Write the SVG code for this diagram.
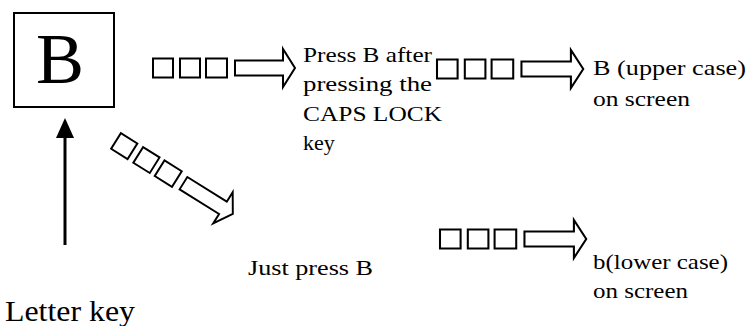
<svg xmlns="http://www.w3.org/2000/svg" width="750" height="326" viewBox="0 0 750 326">
<style>
  .lbl { font-family: "Liberation Serif", "Times New Roman", serif; font-size: 22px; fill: #000; }
  .key { font-family: "Liberation Serif", "Times New Roman", serif; fill: #000; }
  .ch { fill: #fff; stroke: #000; stroke-width: 2; stroke-linejoin: miter; }
</style>
<defs>
  <g id="chain">
    <rect class="ch" x="0" y="-9.5" width="20" height="19"/>
    <rect class="ch" x="27" y="-9.5" width="20" height="19"/>
    <rect class="ch" x="53" y="-9.5" width="21" height="19"/>
    <path class="ch" d="M82,-7.5 H130 V-19 L142,0 L130,19 V7.5 H82 Z"/>
  </g>
</defs>
<rect width="750" height="326" fill="#fff"/>

<g id="node-letter-b">
  <rect x="14" y="13" width="100" height="94" fill="#fff" stroke="#000" stroke-width="2"/>
  <text class="key" x="60" y="83" font-size="72" text-anchor="middle">B</text>
</g>

<g id="node-letter-key">
  <text class="key" x="5" y="321" font-size="30" textLength="130" lengthAdjust="spacingAndGlyphs">Letter key</text>
</g>

<g id="node-caps">
  <text class="lbl" x="303" y="62" textLength="129" lengthAdjust="spacingAndGlyphs">Press B after</text>
  <text class="lbl" x="303" y="91" textLength="129" lengthAdjust="spacingAndGlyphs">pressing the</text>
  <text class="lbl" x="303" y="121" textLength="139" lengthAdjust="spacingAndGlyphs">CAPS LOCK</text>
  <text class="lbl" x="303" y="150">key</text>
</g>

<g id="node-upper">
  <text class="lbl" x="593" y="75" textLength="153" lengthAdjust="spacingAndGlyphs">B (upper case)</text>
  <text class="lbl" x="593" y="106" textLength="97" lengthAdjust="spacingAndGlyphs">on screen</text>
</g>

<g id="node-just">
  <text class="lbl" x="248" y="275" textLength="125" lengthAdjust="spacingAndGlyphs">Just press B</text>
</g>

<g id="node-lower">
  <text class="lbl" x="593" y="269" textLength="135" lengthAdjust="spacingAndGlyphs">b(lower case)</text>
  <text class="lbl" x="593" y="298" textLength="95" lengthAdjust="spacingAndGlyphs">on screen</text>
</g>

<g id="connectors">
  <line x1="65" y1="245" x2="65" y2="134" stroke="#000" stroke-width="3"/>
  <polygon points="65,118 56,138 74,138" fill="#000"/>
  <use href="#chain" transform="translate(153,68)"/>
  <use href="#chain" transform="translate(437,69) scale(1.03,1)"/>
  <use href="#chain" transform="translate(440,239) scale(1.03,1)"/>
  <use href="#chain" transform="translate(116,141) rotate(32) scale(0.97)"/>
</g>
</svg>
